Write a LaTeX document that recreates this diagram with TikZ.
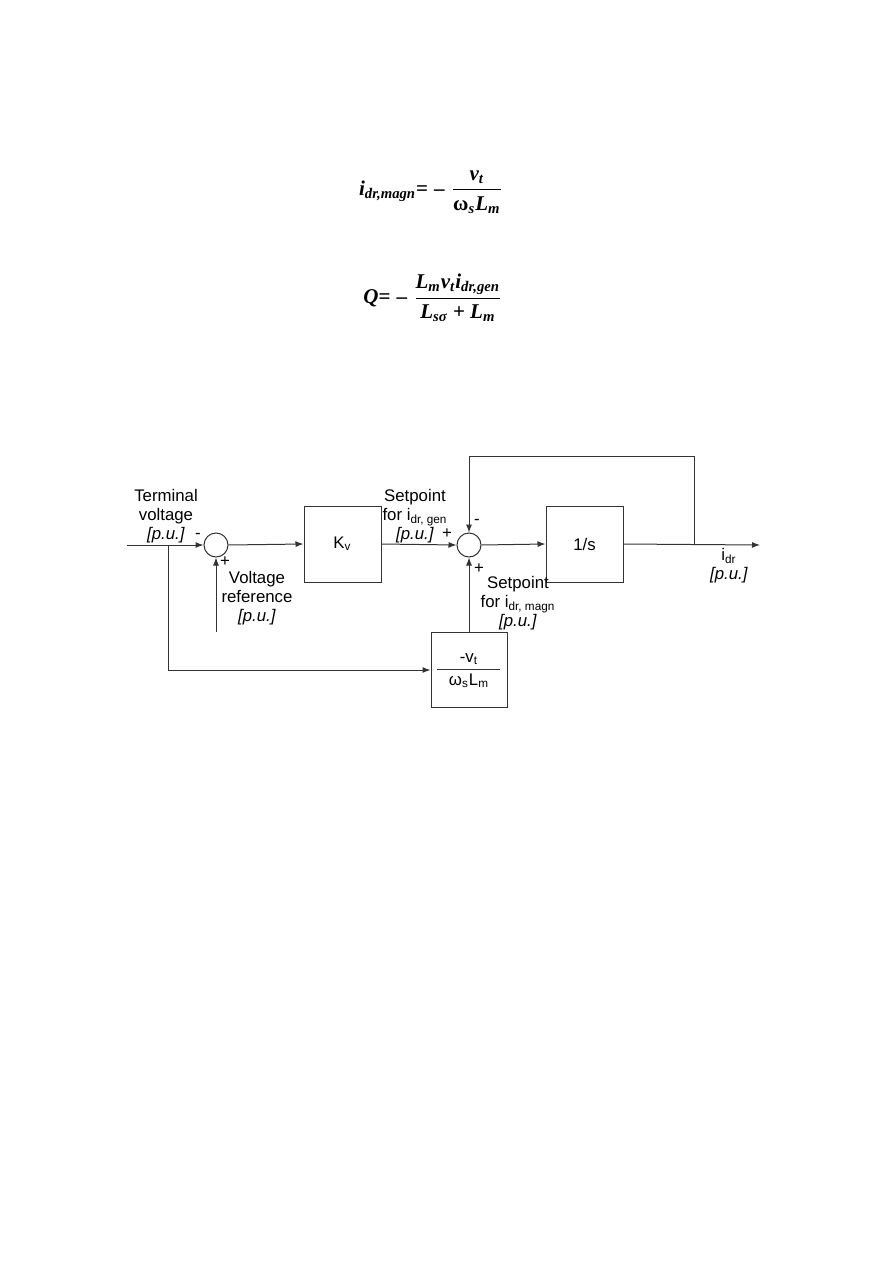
\documentclass[tikz,border=0pt]{standalone}
\usepackage{amsmath}
\usepackage{fontspec}
\setmainfont{Liberation Sans}
\newfontfamily\eqf{Liberation Serif}
\newcommand\mi[1]{\text{\eqf\bfseries\itshape #1}}
\newcommand\mt[1]{\text{\eqf\bfseries #1}}
\usetikzlibrary{arrows.meta}
\begin{document}
\begin{tikzpicture}[x=0.5pt,y=-0.5pt,
  ln/.style={line width=0.5pt, draw=black!80},
  arr/.style={ln, -{Latex[length=4pt,width=3pt]}},
  blk/.style={ln, draw, minimum width=38.5pt, minimum height=38pt, inner sep=0pt},
  sum/.style={ln, draw, circle, minimum size=12pt, inner sep=0pt},
  lbl/.style={font=\fontsize{8.4}{9.5}\selectfont, align=center, inner sep=0pt},
  sgn/.style={font=\fontsize{8.4}{9.5}\selectfont, inner sep=0pt},
  eq/.style={font=\fontsize{10.5}{12}\selectfont, inner sep=0pt}]
\useasboundingbox (0,0) rectangle (893,1263);

% equations
\node[eq] (eq1) at (431,192) {$\mi{i}_{\mi{dr,magn}}\mt{=}\;\mt{–}\;\dfrac{\mi{v}_{\mi{t}}}{\mt{ω}_{\mi{s}}\mi{L}_{\mi{m}}}$};
\node[eq] (eq2) at (433,298) {$\mi{Q}\mt{=}\;\mt{–}\;\dfrac{\mi{L}_{\mi{m}}\mi{v}_{\mi{t}}\mi{i}_{\mi{dr,gen}}}{\mi{L}_{\mi{sσ}}\mt{ + }\mi{L}_{\mi{m}}}$};

% blocks
\node[sum] (s1) at (216,545) {};
\node[blk, font=\fontsize{8.4}{9.5}\selectfont] (kv) at (342.5,544) {K\textsubscript{v}};
\node[sum] (s2) at (469,545) {};
\node[blk, font=\fontsize{8.4}{9.5}\selectfont] (int) at (584.5,544) {1/s};
\node[blk, minimum width=38pt, minimum height=37.5pt] (g) at (469,669.5) {};
\node[lbl] (gnum) at (469,659) {-v\textsubscript{t}};
\node[lbl] (gden) at (469,681) {ω\textsubscript{s}L\textsubscript{m}};
\coordinate (gl) at (437,669);
\coordinate (gr) at (500,669);
\draw[ln] (gl) -- (gr);

% coordinates
\coordinate (in) at (127,545);
\coordinate (br) at (168,545);
\coordinate (brd) at (168,670);
\coordinate (vref) at (216,632);
\coordinate (fb) at (694,545);
\coordinate (fbt1) at (694,456);
\coordinate (fbt2) at (469,456);
\coordinate (out) at (760,545);

% connectors
\draw[arr] (in) -- (s1.west);
\draw[arr] (s1.east) -- (kv.west);
\draw[arr] (kv.east) -- (s2.west);
\draw[arr] (s2.east) -- (int.west);
\draw[arr] (int.east) -- (out);
\draw[arr] (fb) -- (fbt1) -- (fbt2) -- (s2.north);
\draw[arr] (vref) -- (s1.south);
\draw[arr] (br) -- (brd) -- (g.west |- brd);
\draw[arr] (g.north) -- (s2.south);

% labels
\node[lbl] (tv) at (166,516) {Terminal\\voltage\\\textit{[p.u.]}};
\node[lbl] (vr) at (257,598) {Voltage\\reference\\\textit{[p.u.]}};
\node[lbl] (spg) at (415,516) {Setpoint\\for i\textsubscript{dr, gen}\\\textit{[p.u.]}};
\node[lbl] (spm) at (518,603) {Setpoint\\for i\textsubscript{dr, magn}\\\textit{[p.u.]}};
\node[lbl] (idr) at (729,566) {i\textsubscript{dr}\\\textit{[p.u.]}};

% signs
\node[sgn] (m1) at (198,536) {-};
\node[sgn] (p1) at (225,562) {+};
\node[sgn] (p2) at (447,534) {+};
\node[sgn] (m2) at (477,522) {-};
\node[sgn] (p3) at (479,569) {+};
\end{tikzpicture}
\end{document}
